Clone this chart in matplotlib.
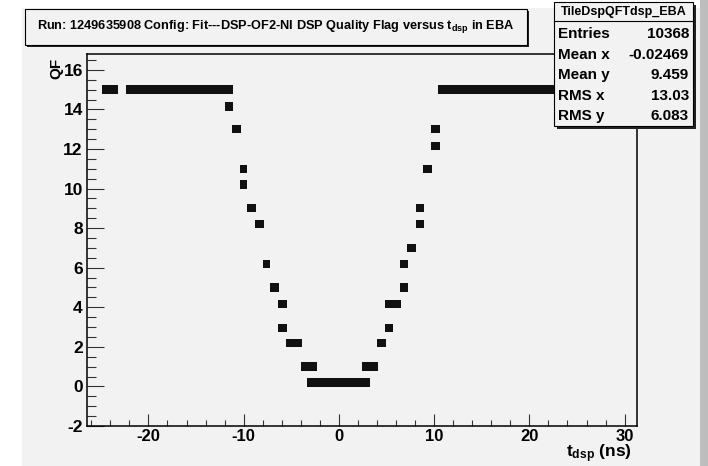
import matplotlib
matplotlib.use("Agg")
import matplotlib.pyplot as plt
from matplotlib.patches import Rectangle
from matplotlib.ticker import MultipleLocator

plt.rcParams['font.family'] = ['Liberation Sans', 'DejaVu Sans']
plt.rcParams['mathtext.fontset'] = 'custom'
plt.rcParams['mathtext.rm'] = 'Liberation Sans'
plt.rcParams['mathtext.bf'] = 'Liberation Sans:bold'
plt.rcParams['mathtext.it'] = 'Liberation Sans:italic'
plt.rcParams['axes.unicode_minus'] = False

# Occupied (t_dsp, QF) cells of the scatter histogram: x range and QF level
cell_t_lo = [-24.9, -22.4, -12.0, -11.2, -10.4, -10.4, -9.6, -8.8, -8.0, -7.2,
             -6.4, -6.4, -5.6, -4.0, -3.3, 2.4, 4.0, 4.8, 4.8, 6.4,
             6.4, 7.2, 8.1, 8.1, 8.8, 9.7, 9.7, 10.4]
cell_t_hi = [-23.2, -11.1, -11.1, -10.3, -9.6, -9.6, -8.7, -7.9, -7.2, -6.3,
             -5.5, -5.5, -3.9, -2.3, 3.3, 4.1, 4.9, 5.7, 6.5, 7.3,
             7.3, 8.1, 8.9, 8.9, 9.8, 10.6, 10.6, 31.0]
cell_qf = [15.0, 15.0, 14.15, 13.0, 11.0, 10.2, 9.0, 8.2, 6.2, 5.0,
           4.15, 2.95, 2.2, 1.0, 0.2, 1.0, 2.2, 2.95, 4.15, 5.0,
           6.2, 7.0, 8.2, 9.0, 11.0, 12.15, 13.0, 15.0]
cell_height = 0.42

stats_names = ["Entries", "Mean x", "Mean y", "RMS x", "RMS y"]
stats_values = ["10368", "-0.02469", "9.459", "13.03", "6.083"]
hist_name = "TileDspQFTdsp_EBA"
title = r"Run: 1249635908 Config: Fit---DSP-OF2-NI DSP Quality Flag versus $\mathbf{t_{dsp}}$ in EBA"

W, H = 708, 466
BG = "#f2f2f2"

fig = plt.figure(figsize=(W / 100, H / 100), dpi=100)
fig.patch.set_facecolor("white")


def fx(px):
    return px / W


def fy(py):
    return 1 - py / H


def fig_rect(x0, y0, x1, y1, **kw):
    r = Rectangle((fx(x0), fy(y1)), fx(x1) - fx(x0), fy(y0) - fy(y1),
                  transform=fig.transFigure, **kw)
    fig.patches.append(r)
    return r


# canvas pad and its right border
fig_rect(22, 8, 700, 466, facecolor=BG, edgecolor="none", zorder=-10)
fig_rect(700, 0, 708, 466, facecolor="#bdbdbd", edgecolor="none", zorder=-10)

ax = fig.add_axes([fx(87), fy(426), fx(637) - fx(87), fy(54) - fy(426)])
ax.set_zorder(1)
ax.set_facecolor(BG)

widths = [hi - lo for lo, hi in zip(cell_t_lo, cell_t_hi)]
ax.bar(cell_t_lo, [cell_height] * len(cell_qf), width=widths,
       bottom=[q - cell_height / 2 for q in cell_qf], align="edge",
       color="#111111", edgecolor="none", zorder=2)

ax.set_xlim(-26.45, 31.3)
ax.set_ylim(-2, 16.8)
ax.xaxis.set_major_locator(MultipleLocator(10))
ax.xaxis.set_minor_locator(MultipleLocator(2))
ax.yaxis.set_major_locator(MultipleLocator(2))
ax.yaxis.set_minor_locator(MultipleLocator(0.5))
ax.tick_params(axis="x", which="major", direction="in", length=8.5, width=0.8,
               color="#333333", labelsize=12, pad=2)
ax.tick_params(axis="x", which="minor", direction="in", length=4.2, width=0.8,
               color="#333333")
ax.tick_params(axis="y", which="major", direction="in", length=12.5, width=0.8,
               color="#333333", labelsize=12.5, pad=3)
ax.tick_params(axis="y", which="minor", direction="in", length=6.2, width=0.8,
               color="#333333")
for lab in ax.get_xticklabels() + ax.get_yticklabels():
    lab.set_fontweight("bold")
for sp in ax.spines.values():
    sp.set_linewidth(1.1)
    sp.set_color("black")

fig.text(fx(56), fy(68), "QF", rotation=90, ha="center", va="center",
         fontsize=11, fontweight="bold")
fig.text(fx(632), fy(465), r"$\mathbf{t_{dsp}}$ (ns)", ha="right", va="bottom",
         fontsize=12.5, fontweight="bold")

# title box with shadow
fig_rect(27, 11, 529, 47, facecolor="#222222", edgecolor="none", zorder=5)
fig_rect(25, 9, 527, 45, facecolor=BG, edgecolor="black", linewidth=0.8, zorder=6)
fig.text(fx(276), fy(27), title, ha="center", va="center", fontsize=9.2,
         fontweight="bold", zorder=7)

# statistics box with shadow
sx0, sy0, sx1, sy1 = 554, 2, 693, 126
fig_rect(sx0 + 3, sy0 + 3, sx1 + 3, sy1 + 3, facecolor="#222222", edgecolor="none", zorder=5)
fig_rect(sx0, sy0, sx1, sy1, facecolor=BG, edgecolor="black", linewidth=0.8, zorder=6)
fig.lines.append(plt.Line2D([fx(sx0), fx(sx1)], [fy(21), fy(21)],
                            transform=fig.transFigure, color="black", lw=0.8, zorder=7))
fig.text(fx((sx0 + sx1) / 2), fy(11.5), hist_name, ha="center", va="center",
         fontsize=9, fontweight="bold", zorder=7)
for i, (name, val) in enumerate(zip(stats_names, stats_values)):
    yy = 34 + i * 20.6
    fig.text(fx(558), fy(yy), name, ha="left", va="center", fontsize=11,
             fontweight="bold", zorder=7)
    fig.text(fx(689), fy(yy), val, ha="right", va="center", fontsize=11,
             fontweight="bold", zorder=7)

fig.savefig("out.png", dpi=100, facecolor=fig.get_facecolor())
